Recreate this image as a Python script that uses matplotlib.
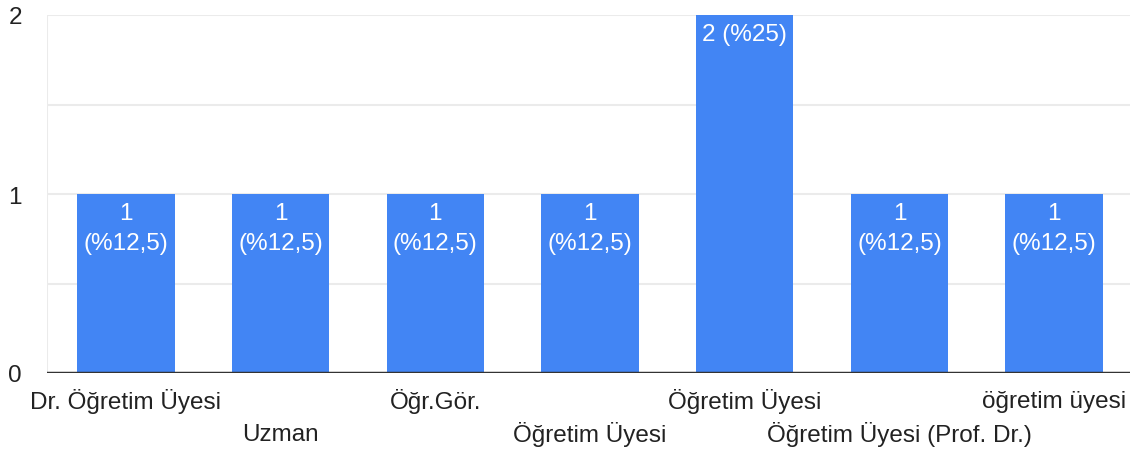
import matplotlib.pyplot as plt
import matplotlib.transforms as mtransforms

plt.rcParams["font.family"] = ["Liberation Sans", "DejaVu Sans"]

categorias = [
    "Dr. Öğretim Üyesi",
    "Uzman",
    "Öğr.Gör.",
    "Öğretim Üyesi",
    "Öğretim Üyesi",
    "Öğretim Üyesi (Prof. Dr.)",
    "öğretim üyesi",
]
valores = [1, 1, 1, 1, 2, 1, 1]
etiquetas = ["1\n(%12,5)", "1\n(%12,5)", "1\n(%12,5)", "1\n(%12,5)",
             "2 (%25)", "1\n(%12,5)", "1\n(%12,5)"]
yticks = [0, 1, 2]

azul = "#4285f4"
gris = "#ebebeb"
fs = 17.5

fig = plt.figure(figsize=(11.4, 4.52), dpi=100)
ax = fig.add_axes([47 / 1140, 78 / 452, 1083 / 1140, 358 / 452])

x = list(range(len(categorias)))
ax.bar([i + 0.01 for i in x], valores, width=0.63, color=azul, zorder=3)
ax.set_xlim(-0.5, len(categorias) - 0.5)
ax.set_ylim(0, 2)

# grid
for v in [0.5, 1, 1.5, 2]:
    ax.axhline(v, color=gris, lw=1.5, zorder=1)
ax.axvline(-0.5, color=gris, lw=1.5, zorder=1)
ax.axhline(0, color="#333333", lw=2.5, zorder=4)

for s in ax.spines.values():
    s.set_visible(False)

ax.set_xticks([])
ax.set_yticks(yticks)
ax.set_yticklabels([str(t) for t in yticks], fontsize=fs, color="#222222")
ax.tick_params(axis="y", length=0, pad=18)

# etiquetas de categorias en dos filas
trans = mtransforms.blended_transform_factory(ax.transData, ax.transAxes)
for i, cat in enumerate(categorias):
    yy = -0.077 if i % 2 == 0 else -0.169
    ax.text(i + 0.01, yy, cat, transform=trans, ha="center", va="center",
            fontsize=fs, color="#222222")

# valores dentro de las barras
for i, (v, et) in enumerate(zip(valores, etiquetas)):
    ax.annotate(et, (i + 0.01, v), xytext=(0, -6), textcoords="offset points",
                ha="center", va="top", fontsize=fs, color="white",
                linespacing=1.45, zorder=5)

fig.savefig("out.png", dpi=100)
